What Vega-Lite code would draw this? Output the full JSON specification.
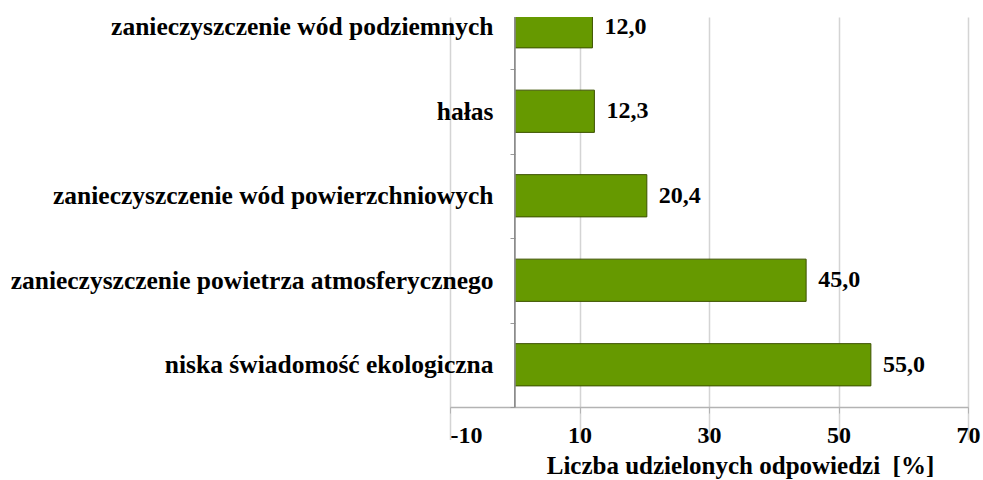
{
  "$schema": "https://vega.github.io/schema/vega-lite/v6.json",
  "autosize": "none",
  "width": 518,
  "height": 390,
  "padding": {"left": 450, "top": 17, "right": 15, "bottom": 73},
  "background": "white",
  "config": {
    "view": {"stroke": null},
    "locale": {"number": {"decimal": ",", "thousands": " ", "grouping": [3], "currency": ["", " zł"], "minus": "-"}}
  },
  "data": {
    "values": [
      {"kategoria": "zanieczyszczenie wód podziemnych", "wartosc": 12.0},
      {"kategoria": "hałas", "wartosc": 12.3},
      {"kategoria": "zanieczyszczenie wód powierzchniowych", "wartosc": 20.4},
      {"kategoria": "zanieczyszczenie powietrza atmosferycznego", "wartosc": 45.0},
      {"kategoria": "niska świadomość ekologiczna", "wartosc": 55.0}
    ]
  },
  "encoding": {
    "y": {
      "field": "kategoria",
      "type": "nominal",
      "sort": null,
      "scale": {"range": [-32.5, 390], "paddingInner": 0.5, "paddingOuter": 0.25},
      "axis": {
        "title": null,
        "offset": -65,
        "domain": false,
        "tickOffset": 42.25,
        "labelOffset": -42.25,
        "tickSize": 5,
        "tickColor": "#9a9a9a",
        "labelPadding": 17,
        "labelFont": "Liberation Serif",
        "labelFontWeight": "bold",
        "labelFontSize": 25.5,
        "labelColor": "#000000",
        "labelLimit": 700
      }
    }
  },
  "layer": [
    {
      "mark": {"type": "bar", "fill": "#669900", "stroke": "#3d5200", "strokeWidth": 1, "clip": true},
      "encoding": {
        "x": {
          "field": "wartosc",
          "type": "quantitative",
          "scale": {"domain": [-10, 70], "nice": false, "zero": false},
          "axis": {
            "title": "Liczba udzielonych odpowiedzi\u00a0 [%]",
            "values": [-10, 10, 30, 50, 70],
            "format": "d",
            "grid": true,
            "gridColor": "#d4d4d4",
            "gridWidth": 1.5,
            "domainColor": "#b3b3b3",
            "domainWidth": 1.5,
            "tickColor": "#b3b3b3",
            "tickSize": 6,
            "labelFlush": false,
            "labelAlign": {"expr": "datum.value < 0 ? 'left' : 'center'"},
            "labelPadding": 10,
            "labelFont": "Liberation Serif",
            "labelFontWeight": "bold",
            "labelFontSize": 24,
            "labelColor": "#000000",
            "titleFont": "Liberation Serif",
            "titleFontWeight": "bold",
            "titleFontSize": 25,
            "titleColor": "#000000",
            "titlePadding": 6,
            "titleX": 290,
            "titleAnchor": "middle"
          }
        }
      }
    },
    {
      "mark": {"type": "rule", "color": "#8c8c8c", "strokeWidth": 1},
      "encoding": {"x": {"datum": 0}, "y": {"value": 0}, "y2": {"value": 390}}
    },
    {
      "mark": {"type": "text", "align": "left", "baseline": "middle", "dx": 12, "font": "Liberation Serif", "fontWeight": "bold", "fontSize": 24, "color": "#000000", "clip": false},
      "encoding": {
        "x": {"field": "wartosc", "type": "quantitative"},
        "text": {"field": "wartosc", "type": "quantitative", "format": ".1f"}
      }
    }
  ]
}
